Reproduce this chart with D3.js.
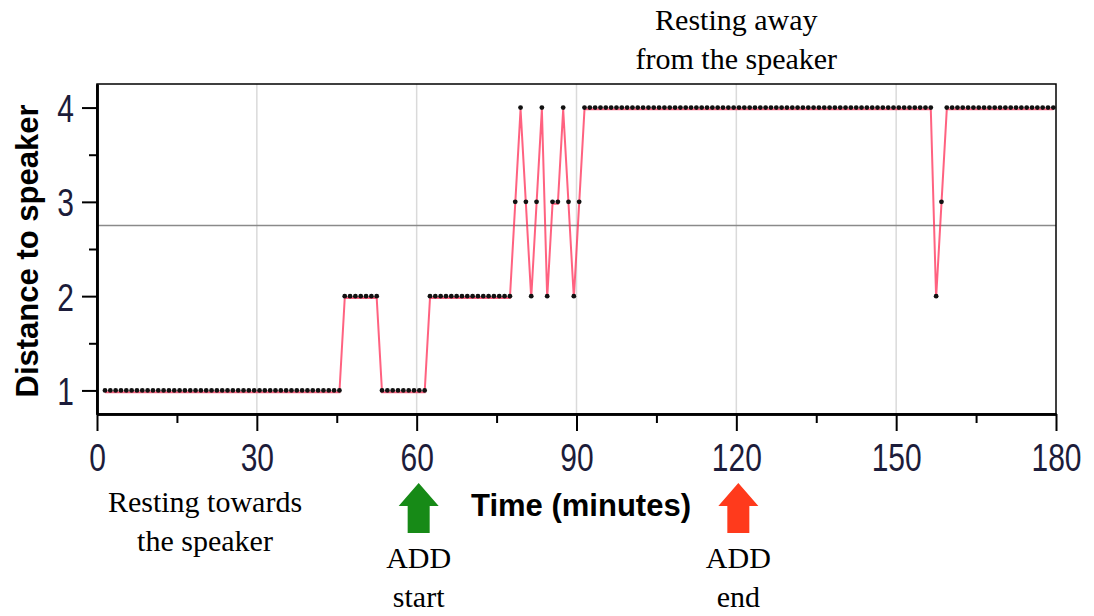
<!DOCTYPE html>
<html>
<head>
<meta charset="utf-8">
<script src="https://cdn.jsdelivr.net/npm/d3@7"></script>
<style>
	body { margin: 0; background: #fff; }
	text.serif { font-family: 'Liberation Serif', 'Times New Roman', serif; font-size: 30px; fill: #000; }
	text.title { font-family: 'Liberation Sans', Arial, sans-serif; font-size: 31px; font-weight: bold; fill: #000; }
	.tick text { font-family: 'Liberation Sans', Arial, sans-serif; font-size: 30px; fill: #1c1c3a; }
</style>
</head>
<body>
<svg id="chart" width="1094" height="616"></svg>
<script>
// one reading per minute, first reading at 1.5 min
var sampleStart = 1.5 ;
var distance = [
	1,1,1,1,1,1,1,1,1,1,
	1,1,1,1,1,1,1,1,1,1,
	1,1,1,1,1,1,1,1,1,1,
	1,1,1,1,1,1,1,1,1,1,
	1,1,1,1,1,2,2,2,2,2,
	2,2,1,1,1,1,1,1,1,1,
	1,2,2,2,2,2,2,2,2,2,
	2,2,2,2,2,2,2,3,4,3,
	2,3,4,2,3,3,4,3,2,3,
	4,4,4,4,4,4,4,4,4,4,
	4,4,4,4,4,4,4,4,4,4,
	4,4,4,4,4,4,4,4,4,4,
	4,4,4,4,4,4,4,4,4,4,
	4,4,4,4,4,4,4,4,4,4,
	4,4,4,4,4,4,4,4,4,4,
	4,4,4,4,4,4,2,3,4,4,
	4,4,4,4,4,4,4,4,4,4,
	4,4,4,4,4,4,4,4,4
] ;
var xMajor = [0,30,60,90,120,150,180] ;
var xMinor = [15,45,75,105,135,165] ;
var yMajor = [1,2,3,4] ;
var yMinor = [1.5,2.5,3.5] ;
var gridLines = [30,60,90,120,150] ;
var markers = [ {t:60, label:['ADD','start'], color:'#178a17'}, {t:120, label:['ADD','end'], color:'#ff3a1c'} ] ;

( function() {
	var svg = d3.select('#chart') ;
	var pLeft = 97, pRight = 1056, pTop = 84, pBottom = 414 ;
	var x = d3.scaleLinear().domain([0,180]).range([pLeft,pRight]) ;
	var y = d3.scaleLinear().domain([0.75,4.25]).range([pBottom,pTop]) ;
	var points = distance.map(function(d,i) { return {t: sampleStart + i, d: d} ; }) ;

	// grid
	svg.selectAll('line.grid').data(gridLines).enter().append('line')
		.attr('class','grid')
		.attr('x1',function(d){ return x(d) ; }).attr('x2',function(d){ return x(d) ; })
		.attr('y1',pTop).attr('y2',pBottom)
		.attr('stroke','#dadada').attr('stroke-width',1.5) ;

	// mean line
	var mean = d3.mean(distance) ;
	svg.append('line')
		.attr('x1',pLeft).attr('x2',pRight).attr('y1',y(mean)).attr('y2',y(mean))
		.attr('stroke','#8a8a8a').attr('stroke-width',1.6) ;

	// series
	var line = d3.line().x(function(p){ return x(p.t) ; }).y(function(p){ return y(p.d) ; }) ;
	svg.append('path').datum(points)
		.attr('d',line)
		.attr('transform','translate(0,1.8)')
		.attr('fill','none').attr('stroke','#ff2d55').attr('stroke-opacity',0.75).attr('stroke-width',2) ;
	svg.selectAll('circle.pt').data(points).enter().append('circle')
		.attr('class','pt')
		.attr('cx',function(p){ return x(p.t) ; })
		.attr('cy',function(p){ return y(p.d) ; })
		.attr('r',2.4).attr('fill','#111') ;

	// frame
	svg.append('rect').attr('x',pLeft).attr('y',pTop).attr('width',pRight-pLeft).attr('height',pBottom-pTop)
		.attr('fill','none').attr('stroke','#000').attr('stroke-width',1.5) ;

	// axes
	var gx = svg.append('g').attr('transform','translate(0,'+pBottom+')') ;
	gx.call(d3.axisBottom(x).tickValues(xMajor).tickSize(17).tickSizeOuter(0)) ;
	gx.append('g').call(d3.axisBottom(x).tickValues(xMinor).tickSize(9).tickFormat('').tickSizeOuter(0)) ;
	gx.selectAll('.domain').attr('stroke','#000').attr('stroke-width',2.5) ;
	gx.selectAll('.tick line').attr('stroke','#000').attr('stroke-width',2) ;
	gx.selectAll('.tick text').attr('y',0).attr('dy','0.36em').attr('transform','translate(0,43) scale(1,1.3)') ;

	var gy = svg.append('g').attr('transform','translate('+pLeft+',0)') ;
	gy.call(d3.axisLeft(y).tickValues(yMajor).tickSize(15).tickSizeOuter(0).tickFormat(d3.format('d'))) ;
	gy.append('g').call(d3.axisLeft(y).tickValues(yMinor).tickSize(8).tickFormat('').tickSizeOuter(0)) ;
	gy.selectAll('.domain').attr('stroke','#000').attr('stroke-width',2.5) ;
	gy.selectAll('.tick line').attr('stroke','#000').attr('stroke-width',2) ;
	gy.selectAll('.tick text').attr('x',-23).attr('dy','0.36em').attr('transform','scale(1,1.3)') ;

	// axis titles
	svg.append('text').attr('class','title')
		.attr('transform','translate(38,'+((pTop+pBottom)/2+2)+') rotate(-90)')
		.attr('text-anchor','middle').text('Distance to speaker') ;
	svg.append('text').attr('class','title')
		.attr('x',581).attr('y',516).attr('text-anchor','middle').text('Time (minutes)') ;

	// annotations
	function twoLines(cx,y0,lines) {
		var t = svg.append('text').attr('class','serif').attr('text-anchor','middle') ;
		lines.forEach(function(s,i) {
			t.append('tspan').attr('x',cx).attr('y',y0 + i*39).text(s) ;
		}) ;
	}
	twoLines(x(120),30,['Resting away','from the speaker']) ;
	twoLines(205,512,['Resting towards','the speaker']) ;

	markers.forEach(function(m) {
		var cx = x(m.t) + 2 ;
		var ay = 483 ;
		var p = 'M' + cx + ',' + ay
			+ ' L' + (cx+20) + ',' + (ay+23)
			+ ' L' + (cx+11) + ',' + (ay+23)
			+ ' L' + (cx+11) + ',' + (ay+50)
			+ ' L' + (cx-11) + ',' + (ay+50)
			+ ' L' + (cx-11) + ',' + (ay+23)
			+ ' L' + (cx-20) + ',' + (ay+23) + ' Z' ;
		svg.append('path').attr('d',p).attr('fill',m.color) ;
		twoLines(cx,568,m.label) ;
	}) ;
} ) () ;
</script>
</body>
</html>
